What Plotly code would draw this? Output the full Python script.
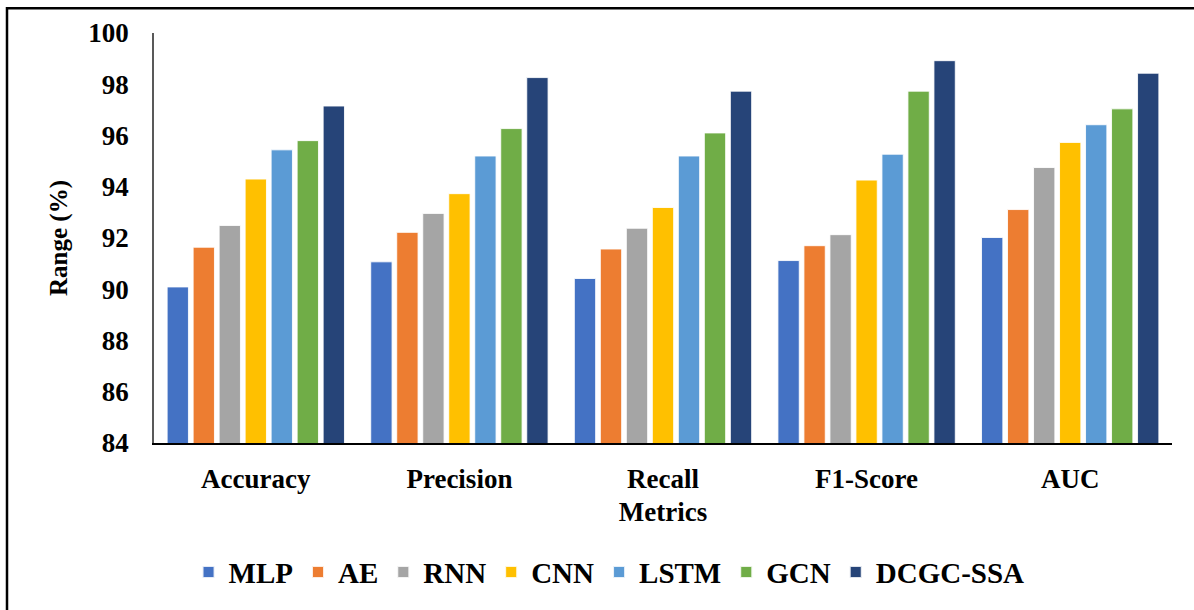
import plotly.graph_objects as go

metrics = ["Accuracy", "Precision", "Recall", "F1-Score", "AUC"]
models = ["MLP", "AE", "RNN", "CNN", "LSTM", "GCN", "DCGC-SSA"]

mlp = [90.09, 91.07, 90.42, 91.12, 92.02]
ae = [91.64, 92.22, 91.57, 91.70, 93.11]
rnn = [92.49, 92.96, 92.38, 92.13, 94.75]
cnn = [94.30, 93.73, 93.19, 94.26, 95.73]
lstm = [95.44, 95.20, 95.20, 95.27, 96.42]
gcn = [95.80, 96.27, 96.10, 97.73, 97.04]
dcgc_ssa = [97.15, 98.26, 97.73, 98.92, 98.43]

y_ticks = [84, 86, 88, 90, 92, 94, 96, 98, 100]

series = [mlp, ae, rnn, cnn, lstm, gcn, dcgc_ssa]
colors = ["#4472C4", "#ED7D31", "#A5A5A5", "#FFC000", "#5B9BD5", "#70AD47", "#264478"]

FONT = "Liberation Serif"

fig = go.Figure()
for name, vals, col in zip(models, series, colors):
    fig.add_trace(go.Bar(
        x=metrics, y=vals, name=name,
        marker=dict(color=col, line=dict(color="rgba(255,255,255,0.85)", width=1)),
    ))

fig.update_layout(
    width=1194, height=610,
    margin=dict(l=154, r=22, t=33, b=163),
    paper_bgcolor="white", plot_bgcolor="white",
    barmode="group", bargap=0.106, bargroupgap=0.18,
    font=dict(family=FONT, color="black"),
    showlegend=True,
    legend=dict(
        orientation="h", x=0.447, xanchor="center", y=-0.315, yanchor="middle",
        font=dict(family=FONT, size=29, color="black", weight="bold"),
        itemsizing="constant", traceorder="normal",
    ),
)

fig.update_xaxes(
    showline=True, linecolor="black", linewidth=1.5,
    showgrid=False, ticks="",
    tickfont=dict(family=FONT, size=27, weight="bold"),
    ticklabelstandoff=11,
    title=dict(text="Metrics", font=dict(family=FONT, size=27, weight="bold"), standoff=9),
)
fig.update_yaxes(
    range=[84, 100], tickvals=y_ticks,
    showline=True, linecolor="#595959", linewidth=1.5,
    showgrid=False, ticks="", zeroline=False,
    tickfont=dict(family=FONT, size=27, weight="bold"),
    ticklabelstandoff=18,
    title=dict(text="Range (%)", font=dict(family=FONT, size=25, weight="bold"), standoff=14),
)

# frame around the figure (left and top edges)
fig.add_shape(
    type="path", xref="paper", yref="paper",
    path="M 1.05,1.0604 L -0.1444,1.0604 L -0.1444,-0.45",
    line=dict(color="black", width=2.5),
)

fig.write_html("out.html")
